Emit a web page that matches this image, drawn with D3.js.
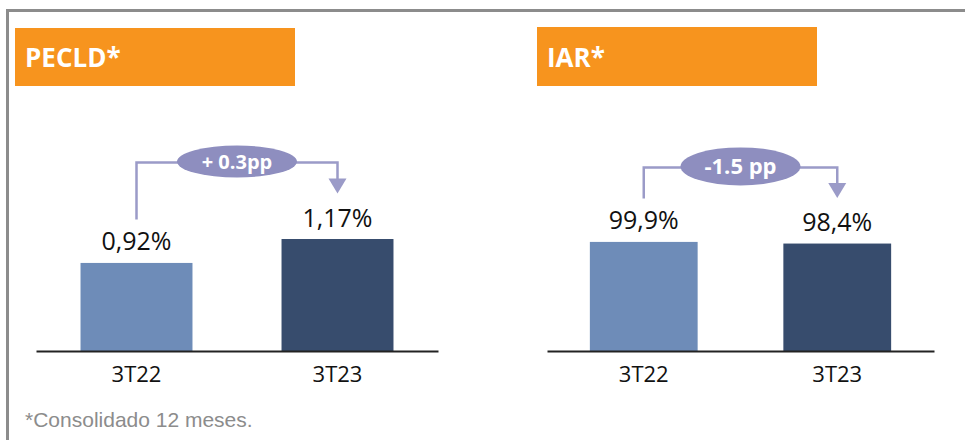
<!DOCTYPE html>
<html>
<head>
<meta charset="utf-8">
<script src="https://cdn.jsdelivr.net/npm/d3@7"></script>
<style>
  html, body { margin: 0; padding: 0; background: #fff; }
  svg { display: block; }
</style>
</head>
<body>
<svg id="chart" width="965" height="440"></svg>
<script>
// ---- data ----
const panelTitles = ["PECLD*", "IAR*"];
const categories = ["3T22", "3T23"];
const pecldValues = [0.92, 1.17];
const iarValues = [99.9, 98.4];
const pecldLabels = ["0,92%", "1,17%"];
const iarLabels = ["99,9%", "98,4%"];
const deltaLabels = ["+ 0.3pp", "-1.5 pp"];
const footnote = "*Consolidado 12 meses.";

// ---- layout / style ----
const W = 965, H = 440;
const barColors = ["#6e8cb8", "#374c6d"];
const orange = "#f7941e";
const lineColor = "#9b9bc8";
const ellipseColor = "#8e8ebf";
const panels = [
  { title: panelTitles[0], values: pecldValues, labels: pecldLabels, delta: deltaLabels[0],
    box: [15, 28, 280, 58], x0: 36, x1: 438, yMax: 1.985, ry: 16, deltaSize: 20, lineOff: 46 },
  { title: panelTitles[1], values: iarValues, labels: iarLabels, delta: deltaLabels[1],
    box: [537, 27, 280, 59], x0: 547, x1: 934, yMax: 174, ry: 19, deltaSize: 22, lineOff: 44 }
];
const baseY = 351, topY = 161;

const svg = d3.select("#chart");

// frame
svg.append("path")
  .attr("d", `M7.5,${H} L7.5,10.5 L${W},10.5`)
  .attr("fill", "none").attr("stroke", "#8c8c8c").attr("stroke-width", 3);

panels.forEach(p => {
  const g = svg.append("g");
  // title box
  g.append("rect").attr("x", p.box[0]).attr("y", p.box[1])
    .attr("width", p.box[2]).attr("height", p.box[3]).attr("fill", orange);
  g.append("text").attr("x", p.box[0] + 10).attr("y", 67)
    .attr("font-family", "'Open Sans', sans-serif").attr("font-weight", 700)
    .attr("font-size", 26).attr("fill", "#fff").text(p.title);

  const x = d3.scaleBand().domain(categories).range([p.x0, p.x1])
    .paddingInner(0.443).paddingOuter(0.2215);
  const y = d3.scaleLinear().domain([0, p.yMax]).range([baseY, topY]);

  // bars
  g.selectAll("rect.bar").data(p.values).join("rect")
    .attr("class", "bar")
    .attr("x", (d, i) => x(categories[i]))
    .attr("y", d => y(d))
    .attr("width", x.bandwidth())
    .attr("height", d => baseY - y(d))
    .attr("fill", (d, i) => barColors[i]);

  // value labels
  const labelFont = 25;
  g.selectAll("text.val").data(p.values).join("text")
    .attr("class", "val")
    .attr("x", (d, i) => x(categories[i]) + x.bandwidth() / 2)
    .attr("y", d => y(d) - 12.5)
    .attr("text-anchor", "middle")
    .attr("font-family", "'Open Sans', sans-serif")
    .attr("font-size", labelFont).attr("fill", "#111")
    .text((d, i) => p.labels[i]);

  // axis
  const axis = g.append("g").attr("transform", `translate(0,${baseY})`)
    .call(d3.axisBottom(x).tickSize(0).tickPadding(15).tickSizeOuter(0));
  axis.select(".domain").attr("stroke", "#222").attr("stroke-width", 2);
  axis.selectAll("text").attr("font-family", "'Open Sans', sans-serif")
    .attr("font-size", 22).attr("fill", "#111");

  // annotation bracket
  const cx0 = x(categories[0]) + x.bandwidth() / 2;
  const cx1 = x(categories[1]) + x.bandwidth() / 2;
  const top0 = y(p.values[0]) - 12.5 - 18;
  const top1 = y(p.values[1]) - 12.5 - 18;
  const lineY = Math.min(top0, top1) - p.lineOff;
  const startY = top0 - 13;
  const tipY = top1 - 15;
  const headH = 15, headW = 9;
  g.append("path")
    .attr("d", `M${cx0},${startY} L${cx0},${lineY} L${cx1},${lineY} L${cx1},${tipY - headH + 1}`)
    .attr("fill", "none").attr("stroke", lineColor).attr("stroke-width", 2.5);
  g.append("path")
    .attr("d", `M${cx1 - headW},${tipY - headH} L${cx1 + headW},${tipY - headH} L${cx1},${tipY} Z`)
    .attr("fill", lineColor);
  const ex = (cx0 + cx1) / 2;
  g.append("ellipse").attr("cx", ex).attr("cy", lineY - 1)
    .attr("rx", 60).attr("ry", p.ry).attr("fill", ellipseColor);
  g.append("text").attr("x", ex).attr("y", lineY - 1)
    .attr("dy", "0.36em")
    .attr("text-anchor", "middle")
    .attr("font-family", "'Open Sans', sans-serif").attr("font-weight", 700)
    .attr("font-size", p.deltaSize).attr("fill", "#fff").text(p.delta);
});

// footnote
svg.append("text").attr("x", 25).attr("y", 427)
  .attr("font-family", "'Liberation Sans', Arial, sans-serif")
  .attr("font-size", 21).attr("fill", "#8c8c8c").text(footnote);
</script>
</body>
</html>
